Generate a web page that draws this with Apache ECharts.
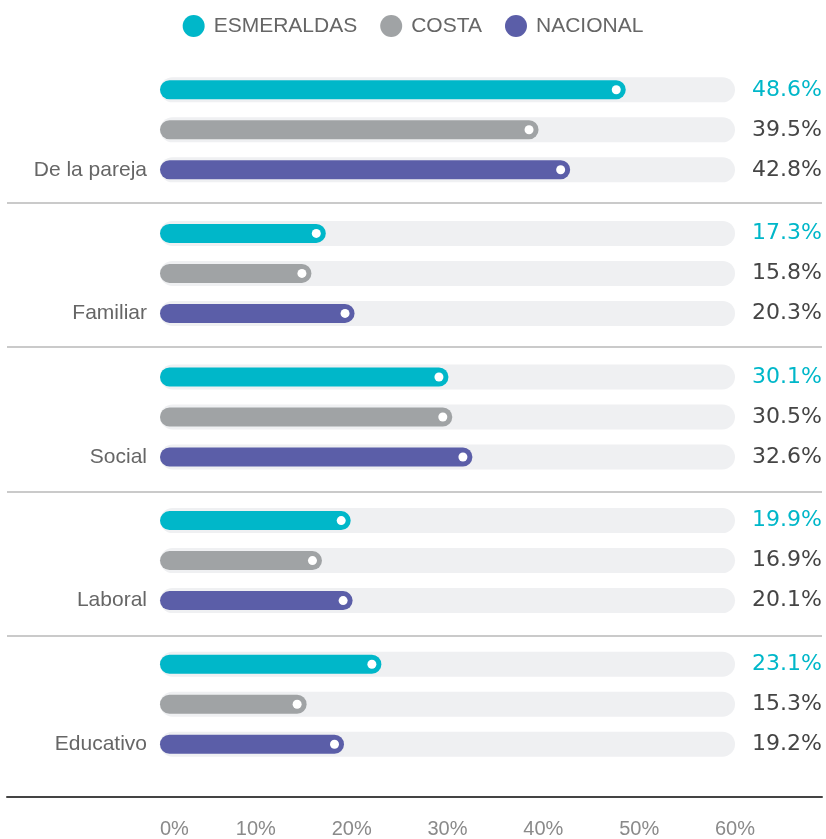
<!DOCTYPE html>
<html>
<head>
<meta charset="utf-8">
<script src="https://cdn.jsdelivr.net/npm/echarts@6/dist/echarts.min.js"></script>
<style>
  html, body { margin: 0; padding: 0; background: #fff; }
  #chart { width: 826px; height: 839px; }
</style>
</head>
<body>
<div id="chart"></div>
<script>
// data
var categories = ['De la pareja', 'Familiar', 'Social', 'Laboral', 'Educativo'];
var esmeraldas = [48.6, 17.3, 30.1, 19.9, 23.1];
var costa      = [39.5, 15.8, 30.5, 16.9, 15.3];
var nacional   = [42.8, 20.3, 32.6, 20.1, 19.2];
var seriesNames = ['ESMERALDAS', 'COSTA', 'NACIONAL'];
var axisMax = 60;
var axisStep = 10;

var colors = ['#00b7c9', '#a0a3a5', '#5b5ea8'];
var valueColors = ['#00b7c9', '#454545', '#454545'];
var allValues = [esmeraldas, costa, nacional];

var chart = echarts.init(document.getElementById('chart'));

// light grey track behind each bar, carries the value text on the right
function trackSeries(i) {
  return {
    name: seriesNames[i] + '_track',
    type: 'bar',
    xAxisIndex: 0,
    yAxisIndex: 1,
    barWidth: 25,
    barGap: '60%',
    z: 1,
    silent: true,
    itemStyle: { color: '#eff0f2', borderRadius: 12.5 },
    label: {
      show: true,
      position: 'right',
      align: 'right',
      distance: 87,
      fontFamily: 'DejaVu Sans',
      fontSize: 22,
      color: valueColors[i],
      formatter: function (p) { return allValues[i][p.dataIndex].toFixed(1) + '%'; }
    },
    data: categories.map(function () { return axisMax; })
  };
}

function dataSeries(i) {
  return {
    name: seriesNames[i],
    type: 'bar',
    xAxisIndex: 0,
    yAxisIndex: 0,
    barWidth: 19,
    barGap: '110.5%',
    z: 2,
    itemStyle: { color: colors[i], borderRadius: 9.5 },
    label: {
      show: true,
      position: 'insideRight',
      distance: 5,
      formatter: '{d|}',
      rich: { d: { width: 9, height: 9, borderRadius: 4.5, backgroundColor: '#fff' } }
    },
    data: allValues[i]
  };
}

var option = {
  animation: false,
  backgroundColor: '#fff',
  legend: {
    top: 10,
    left: 'center',
    itemWidth: 22,
    itemHeight: 22,
    itemGap: 23,
    icon: 'circle',
    data: seriesNames,
    textStyle: { fontFamily: 'Liberation Sans', fontSize: 21, color: '#666', padding: [0, 0, 0, 4] }
  },
  grid: [
    { left: 160, right: 91, top: 58, height: 722.5 },
    { left: 7, right: 4, top: 58, height: 722.5 }
  ],
  xAxis: [
    {
      gridIndex: 0,
      type: 'value',
      min: 0,
      max: axisMax,
      interval: axisStep,
      axisLine: { show: false },
      axisTick: { show: false },
      splitLine: { show: false },
      axisLabel: {
        margin: 43,
        alignMinLabel: 'left',
        fontFamily: 'Liberation Sans',
        fontSize: 20,
        color: '#8a8a8a',
        formatter: '{value}%'
      }
    },
    {
      gridIndex: 1,
      type: 'value',
      min: 0,
      max: 1,
      offset: 16,
      axisLine: { show: true, lineStyle: { color: '#444', width: 2 } },
      axisTick: { show: false },
      axisLabel: { show: false },
      splitLine: { show: false }
    }
  ],
  yAxis: [
    {
      gridIndex: 0,
      type: 'category',
      inverse: true,
      data: categories,
      axisLine: { show: false },
      axisTick: { show: false },
      splitLine: { show: false },
      axisLabel: {
        margin: 13,
        lineHeight: 40,
        fontFamily: 'Liberation Sans',
        fontSize: 21,
        color: '#666',
        formatter: function (v) { return '\n\n' + v; }
      }
    },
    {
      gridIndex: 0,
      type: 'category',
      inverse: true,
      data: categories,
      show: false
    },
    {
      gridIndex: 1,
      type: 'category',
      inverse: true,
      data: categories,
      axisLine: { show: false },
      axisTick: { show: false },
      axisLabel: { show: false },
      splitLine: {
        show: true,
        showMinLine: false,
        showMaxLine: false,
        lineStyle: { color: '#b8b8b8', width: 1.5 }
      }
    }
  ],
  series: [
    trackSeries(0), trackSeries(1), trackSeries(2),
    dataSeries(0), dataSeries(1), dataSeries(2)
  ]
};

chart.setOption(option);
</script>
</body>
</html>
